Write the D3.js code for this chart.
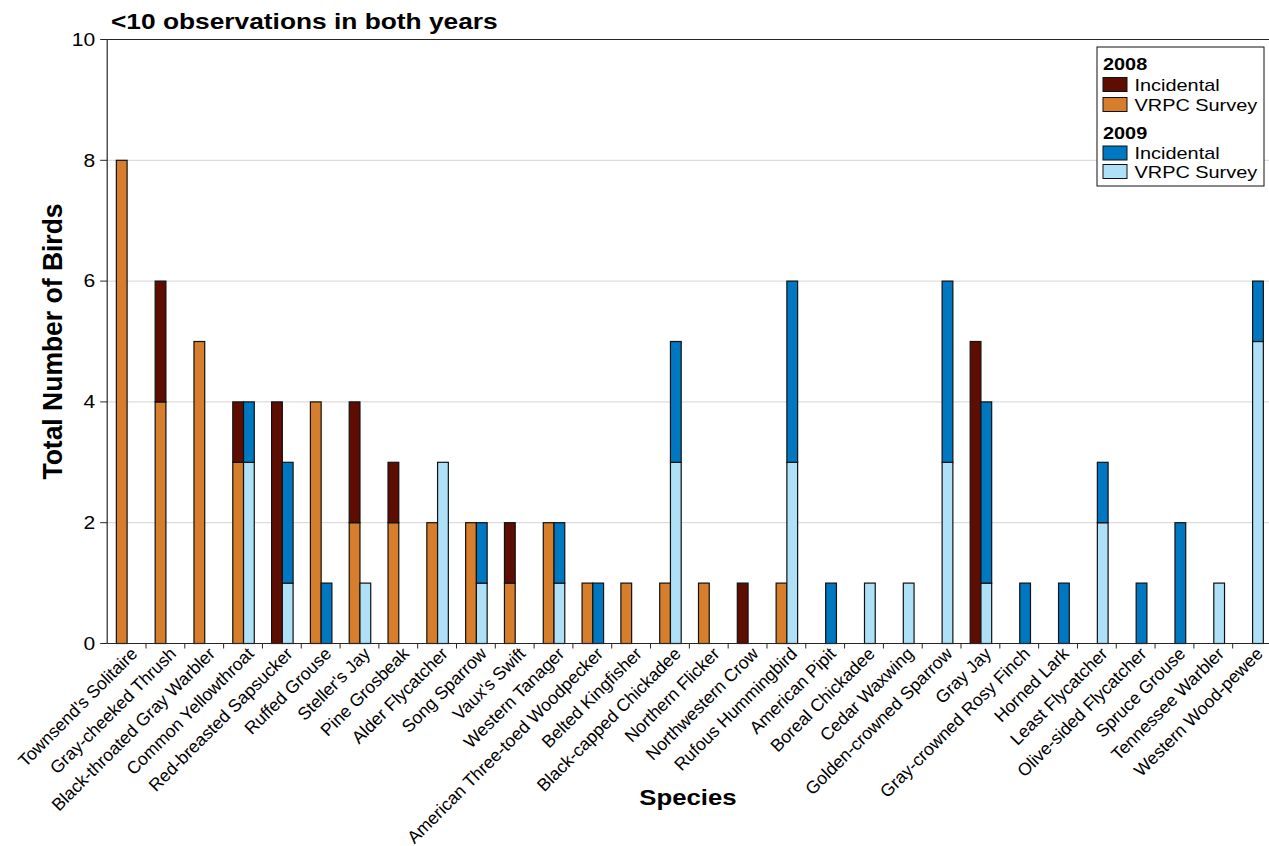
<!DOCTYPE html>
<html>
<head>
<meta charset="utf-8">
<script src="https://cdn.jsdelivr.net/npm/d3@7"></script>
<style>
  body { margin: 0; background: #fff; }
  text { font-family: "Liberation Sans", Arial, sans-serif; fill: #000; }
</style>
</head>
<body>
<svg id="chart" width="1269" height="846"></svg>
<script>
const categories = ["Townsend's Solitaire","Gray-cheeked Thrush","Black-throated Gray Warbler","Common Yellowthroat","Red-breasted Sapsucker","Ruffed Grouse","Steller's Jay","Pine Grosbeak","Alder Flycatcher","Song Sparrow","Vaux's Swift","Western Tanager","American Three-toed Woodpecker","Belted Kingfisher","Black-capped Chickadee","Northern Flicker","Northwestern Crow","Rufous Hummingbird","American Pipit","Boreal Chickadee","Cedar Waxwing","Golden-crowned Sparrow","Gray Jay","Gray-crowned Rosy Finch","Horned Lark","Least Flycatcher","Olive-sided Flycatcher","Spruce Grouse","Tennessee Warbler","Western Wood-pewee"];
const vrpc2008 = [8,4,5,3,0,4,2,2,2,2,1,2,1,1,1,1,0,1,0,0,0,0,0,0,0,0,0,0,0,0];
const inc2008  = [0,2,0,1,4,0,2,1,0,0,1,0,0,0,0,0,1,0,0,0,0,0,5,0,0,0,0,0,0,0];
const vrpc2009 = [0,0,0,3,1,0,1,0,3,1,0,1,0,0,3,0,0,3,0,1,1,3,1,0,0,2,0,0,1,5];
const inc2009  = [0,0,0,1,2,1,0,0,0,1,0,1,1,0,2,0,0,3,1,0,0,3,3,1,1,1,1,2,0,1];
const yTicks = [0,2,4,6,8,10];
const title = "<10 observations in both years";
const yTitle = "Total Number of Birds";
const xTitle = "Species";
const legendGroups = [
  {year: "2008", items: [{label: "Incidental", key: "inc2008"}, {label: "VRPC Survey", key: "vrpc2008"}]},
  {year: "2009", items: [{label: "Incidental", key: "inc2009"}, {label: "VRPC Survey", key: "vrpc2009"}]}
];

const colors = {inc2008: "#5e0d02", vrpc2008: "#d67e2c", inc2009: "#0078c1", vrpc2009: "#aee0f8"};
const SX = 1.17; // horizontal text stretch

const svg = d3.select("#chart");
const pLeft = 107.2, pRight = 1271.5, pTop = 39.5, pBottom = 643.5;

const x = d3.scaleBand().domain(categories).range([pLeft, pRight]).padding(0);
const y = d3.scaleLinear().domain([0, 10]).range([pBottom, pTop]);
const step = x.step();
const bw = step * 0.277;

// gridlines
svg.append("g").selectAll("line").data(yTicks.filter(d => d > 0 && d < 10)).join("line")
  .attr("x1", pLeft).attr("x2", pRight).attr("y1", d => y(d)).attr("y2", d => y(d))
  .attr("stroke", "#d4d4d4").attr("stroke-width", 1);

// top frame line
svg.append("line").attr("x1", pLeft).attr("x2", 1269).attr("y1", y(10)).attr("y2", y(10))
  .attr("stroke", "#262626").attr("stroke-width", 1);

// build stacked segments
const segs = [];
categories.forEach((c, i) => {
  const cx = x(c) + step / 2 + 0.5;
  if (vrpc2008[i] > 0) segs.push({x: cx - bw, y0: 0, y1: vrpc2008[i], key: "vrpc2008"});
  if (inc2008[i] > 0) segs.push({x: cx - bw, y0: vrpc2008[i], y1: vrpc2008[i] + inc2008[i], key: "inc2008"});
  if (vrpc2009[i] > 0) segs.push({x: cx, y0: 0, y1: vrpc2009[i], key: "vrpc2009"});
  if (inc2009[i] > 0) segs.push({x: cx, y0: vrpc2009[i], y1: vrpc2009[i] + inc2009[i], key: "inc2009"});
});

svg.append("g").selectAll("rect").data(segs).join("rect")
  .attr("x", d => d.x).attr("width", bw)
  .attr("y", d => y(d.y1)).attr("height", d => y(d.y0) - y(d.y1))
  .attr("fill", d => colors[d.key]).attr("stroke", "#111").attr("stroke-width", 1.2);

// x axis
const xAxis = svg.append("g").attr("transform", `translate(0,${pBottom})`);
xAxis.append("line").attr("x1", pLeft).attr("x2", 1269).attr("y1", 0).attr("y2", 0)
  .attr("stroke", "#262626").attr("stroke-width", 1.2);
xAxis.selectAll("line.tk").data(categories.slice(1)).join("line").attr("class", "tk")
  .attr("x1", d => x(d)).attr("x2", d => x(d)).attr("y1", 0).attr("y2", 5)
  .attr("stroke", "#262626");
xAxis.selectAll("text").data(categories).join("text")
  .attr("transform", d => `translate(${x(d) + step / 2 + 7.5},${7}) rotate(-45)`)
  .attr("text-anchor", "end").attr("dy", "0.35em")
  .style("font-size", "17.6px").text(d => d);

// y axis
const yAxis = svg.append("g").attr("transform", `translate(${pLeft},0)`);
yAxis.append("line").attr("x1", 0).attr("x2", 0).attr("y1", pTop).attr("y2", pBottom)
  .attr("stroke", "#262626").attr("stroke-width", 1.2);
yAxis.selectAll("line.tk").data(yTicks).join("line").attr("class", "tk")
  .attr("x1", -7).attr("x2", 0).attr("y1", d => y(d)).attr("y2", d => y(d))
  .attr("stroke", "#262626");
yAxis.selectAll("text").data(yTicks).join("text")
  .attr("transform", d => `translate(-12,${y(d)}) scale(${SX},1)`)
  .attr("text-anchor", "end").attr("dy", "0.35em")
  .style("font-size", "18px").text(d => d);

// titles
svg.append("text").attr("transform", `translate(111,29.3) scale(${SX},1)`)
  .style("font-size", "22.5px").style("font-weight", "bold").text(title);
svg.append("text").attr("transform", `translate(61.5,${(pTop + pBottom) / 2}) scale(1.05,1) rotate(-90)`)
  .attr("text-anchor", "middle").style("font-size", "26.5px").style("font-weight", "bold").text(yTitle);
svg.append("text").attr("transform", `translate(688,805) scale(${SX},1)`)
  .attr("text-anchor", "middle").style("font-size", "22px").style("font-weight", "bold").text(xTitle);

// legend
const lg = svg.append("g");
lg.append("rect").attr("x", 1097).attr("y", 47).attr("width", 167).attr("height", 139)
  .attr("fill", "#fff").attr("stroke", "#111").attr("stroke-width", 1);
const headerY = [70, 138.5];
const itemY = [[77.5, 97.5], [146, 164.5]];
legendGroups.forEach((g, gi) => {
  lg.append("text").attr("transform", `translate(1103,${headerY[gi]}) scale(${SX},1)`)
    .style("font-size", "17px").style("font-weight", "bold").text(g.year);
  g.items.forEach((it, ii) => {
    const yy = itemY[gi][ii];
    lg.append("rect").attr("x", 1103).attr("y", yy).attr("width", 24).attr("height", 14)
      .attr("fill", colors[it.key]).attr("stroke", "#111").attr("stroke-width", 1);
    lg.append("text").attr("transform", `translate(1134.5,${yy + 13}) scale(${SX},1)`)
      .style("font-size", "17px").text(it.label);
  });
});
</script>
</body>
</html>
